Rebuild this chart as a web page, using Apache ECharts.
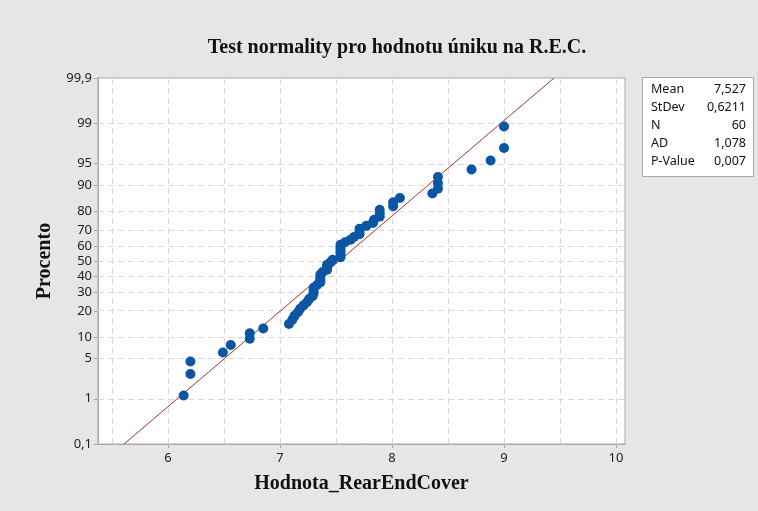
<!DOCTYPE html>
<html>
<head>
<meta charset="utf-8">
<script src="https://cdn.jsdelivr.net/npm/echarts@6/dist/echarts.min.js"></script>
<style>
html, body { margin: 0; padding: 0; background: #e6e6e6; }
#chart { width: 758px; height: 511px; }
</style>
</head>
<body>
<div id="chart"></div>
<script>
// Measured values, sorted ascending (N = 60)
const values = [
  6.14, 6.20, 6.20, 6.49, 6.56, 6.73, 6.73, 6.85, 7.08, 7.11,
  7.13, 7.16, 7.18, 7.21, 7.24, 7.26, 7.29, 7.30, 7.30, 7.30,
  7.33, 7.36, 7.36, 7.36, 7.36, 7.38, 7.42, 7.42, 7.42, 7.45,
  7.47, 7.54, 7.54, 7.54, 7.54, 7.54, 7.54, 7.58, 7.63, 7.66,
  7.71, 7.71, 7.71, 7.77, 7.83, 7.84, 7.89, 7.89, 7.89, 8.01,
  8.01, 8.07, 8.36, 8.41, 8.41, 8.41, 8.71, 8.88, 9.00, 9.00
];

// Probability-axis ticks (percent) and their printed labels
const percentTicks = [0.1, 1, 5, 10, 20, 30, 40, 50, 60, 70, 80, 90, 95, 99, 99.9];
const percentLabels = ['0,1', '1', '5', '10', '20', '30', '40', '50', '60', '70', '80', '90', '95', '99', '99,9'];

// Value-axis ticks and grid positions
const xTicks = [6, 7, 8, 9, 10];
const xGrid = [5.5, 6, 6.5, 7, 7.5, 8, 8.5, 9, 9.5, 10];

// Summary statistics shown in the side table
const statNames = ['Mean', 'StDev', 'N', 'AD', 'P-Value'];
const statValues = ['7,527', '0,6211', '60', '1,078', '0,007'];
const fitMean = 7.527;
const fitStDev = 0.6211;

// Inverse standard normal CDF (Acklam's rational approximation)
function probit(p) {
  const a = [-3.969683028665376e+01, 2.209460984245205e+02, -2.759285104469687e+02, 1.383577518672690e+02, -3.066479806614716e+01, 2.506628277459239e+00];
  const b = [-5.447609879822406e+01, 1.615858368580409e+02, -1.556989798598866e+02, 6.680131188771972e+01, -1.328068155022018e+01];
  const c = [-7.784894002430293e-03, -3.223964580411365e-01, -2.400758277161838e+00, -2.549732539343734e+00, 4.374664141464968e+00, 2.938163982698783e+00];
  const d = [7.784695709041462e-03, 3.224671290700398e-01, 2.445134137142996e+00, 3.754408661907416e+00];
  const pl = 0.02425, ph = 1 - pl;
  let q, r;
  if (p < pl) {
    q = Math.sqrt(-2 * Math.log(p));
    return (((((c[0] * q + c[1]) * q + c[2]) * q + c[3]) * q + c[4]) * q + c[5]) /
           ((((d[0] * q + d[1]) * q + d[2]) * q + d[3]) * q + 1);
  }
  if (p > ph) {
    q = Math.sqrt(-2 * Math.log(1 - p));
    return -(((((c[0] * q + c[1]) * q + c[2]) * q + c[3]) * q + c[4]) * q + c[5]) /
            ((((d[0] * q + d[1]) * q + d[2]) * q + d[3]) * q + 1);
  }
  q = p - 0.5;
  r = q * q;
  return (((((a[0] * r + a[1]) * r + a[2]) * r + a[3]) * r + a[4]) * r + a[5]) * q /
         (((((b[0] * r + b[1]) * r + b[2]) * r + b[3]) * r + b[4]) * r + 1);
}

const n = values.length;
// Median-rank plotting positions on the normal-score scale
const points = values.map((v, i) => [v, probit((i + 1 - 0.3) / (n + 0.4))]);

const zTicks = percentTicks.map(p => probit(p / 100));
const zMin = zTicks[0];
const zMax = zTicks[zTicks.length - 1];

// Fitted normal line across the full probability range
const fitLine = [
  [fitMean + fitStDev * zMin, zMin],
  [fitMean + fitStDev * zMax, zMax]
];

function percentLabelFor(z) {
  let best = 0;
  for (let i = 1; i < zTicks.length; i++) {
    if (Math.abs(zTicks[i] - z) < Math.abs(zTicks[best] - z)) best = i;
  }
  return percentLabels[best];
}

const gridLineStyle = { color: '#d9d9d9', type: [6, 4], width: 1 };
const gridMarks = []
  .concat(xGrid.map(x => ({ xAxis: x })))
  .concat(zTicks.slice(1, -1).map(z => ({ yAxis: z })));

const serif = '"Liberation Serif", "Times New Roman", serif';
const sans = '"Noto Sans", "DejaVu Sans", sans-serif';

const chart = echarts.init(document.getElementById('chart'), null, { renderer: 'canvas' });

// Side table: labels left-aligned, numbers right-aligned
const statGraphics = [];
statNames.forEach((name, i) => {
  statGraphics.push({
    type: 'text', x: 651, y: 89 + i * 18, z: 11,
    style: { text: name, fill: '#111', font: '12.5px ' + sans, textAlign: 'left', textVerticalAlign: 'middle' }
  });
  statGraphics.push({
    type: 'text', x: 746, y: 89 + i * 18, z: 11,
    style: { text: statValues[i], fill: '#111', font: '12.5px ' + sans, textAlign: 'right', textVerticalAlign: 'middle' }
  });
});

chart.setOption({
  animation: false,
  backgroundColor: '#e6e6e6',
  title: {
    text: 'Test normality pro hodnotu úniku na R.E.C.',
    left: 392, top: 33, textAlign: 'center',
    textStyle: { fontFamily: serif, fontWeight: 'bold', fontSize: 20, color: '#111' }
  },
  grid: {
    left: 98, right: 133, top: 78, bottom: 67,
    show: true, backgroundColor: '#ffffff', borderColor: '#a8a8a8', borderWidth: 1
  },
  xAxis: {
    type: 'value',
    min: 5.375, max: 10.08,
    name: 'Hodnota_RearEndCover',
    nameLocation: 'middle', nameGap: 30,
    nameTextStyle: { fontFamily: serif, fontWeight: 'bold', fontSize: 20, color: '#111' },
    axisLine: { show: true, onZero: false, lineStyle: { color: '#a8a8a8' } },
    axisTick: { show: true, customValues: xTicks, length: 4, lineStyle: { color: '#a8a8a8' } },
    axisLabel: { customValues: xTicks, color: '#222', fontFamily: sans, fontSize: 13, margin: 8 },
    splitLine: { show: false }
  },
  yAxis: {
    type: 'value',
    min: zMin, max: zMax,
    name: 'Procento',
    nameLocation: 'middle', nameGap: 41,
    nameTextStyle: { fontFamily: serif, fontWeight: 'bold', fontSize: 20, color: '#111' },
    axisLine: { show: true, onZero: false, lineStyle: { color: '#a8a8a8' } },
    axisTick: { show: true, customValues: zTicks, length: 4, lineStyle: { color: '#a8a8a8' } },
    axisLabel: {
      customValues: zTicks, color: '#222', fontFamily: sans, fontSize: 13, margin: 6,
      formatter: v => percentLabelFor(v)
    },
    splitLine: { show: false }
  },
  series: [
    {
      name: 'grid',
      type: 'line',
      data: [],
      silent: true,
      markLine: {
        silent: true, z: 1, symbol: ['none', 'none'],
        label: { show: false },
        lineStyle: gridLineStyle,
        emphasis: { disabled: true },
        data: gridMarks
      }
    },
    {
      name: 'fit',
      type: 'line',
      data: fitLine,
      z: 2,
      symbol: 'none',
      silent: true,
      lineStyle: { color: '#a83232', width: 1 }
    },
    {
      name: 'data',
      type: 'scatter',
      data: points,
      z: 3,
      symbol: 'circle',
      symbolSize: 10,
      itemStyle: { color: '#0b56a4', opacity: 1 }
    }
  ],
  graphic: [
    {
      type: 'rect', left: 642, top: 77, z: 10,
      shape: { width: 111, height: 99 },
      style: { fill: '#ffffff', stroke: '#a8a8a8', lineWidth: 1 }
    }
  ].concat(statGraphics)
});
</script>
</body>
</html>
